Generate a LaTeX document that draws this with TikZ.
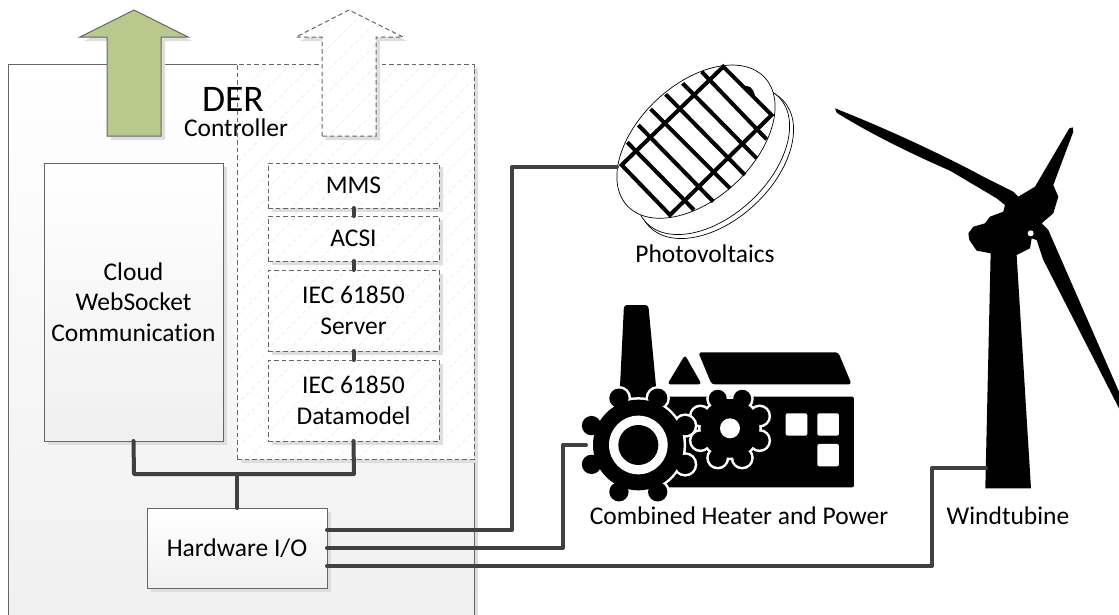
\documentclass[tikz,border=0pt]{standalone}
\usepackage{fontspec}
\setmainfont{Carlito}[Ligatures=NoCommon]
\usetikzlibrary{positioning,shadows}
\definecolor{greenarrow}{HTML}{B9C88C}

\begin{document}
\begin{tikzpicture}[x=1pt,y=-1pt,
  lbl/.style={font=\fontsize{25.5}{30.5}\selectfont, align=center},
  shade/.style={drop shadow={shadow xshift=4pt, shadow yshift=-4pt, fill=black!13, opacity=1}},
  hatched/.style={path picture={
    \foreach \hx in {-1500,-1478,...,700} \draw[black!7, line width=0.7pt] (\hx,600) -- ++(1200,-1200);}},
  solidbox/.style={draw=black!60, line width=1pt, shade, top color=white, bottom color=black!6,
                   minimum width=#1, outer sep=0pt, inner sep=0pt},
  dashbox/.style={draw=black!60, line width=1pt, dash pattern=on 4.5pt off 3pt, shade, fill=white, hatched,
                  minimum width=171pt, outer sep=0pt, inner sep=0pt},
  wire/.style={draw=black!75, line width=4pt, line cap=round, line join=round},
  halo/.style={draw=white, line width=5pt, fill=white}]
  \useasboundingbox (0,0) rectangle (1119,614);

  % controller housing
  \node[solidbox=466pt, minimum height=560pt, anchor=north west] (der) at (8,64) {};
  \node[dashbox, minimum width=237pt, minimum height=395pt, anchor=north west] (srv) at (237,64) {};

  % arrows out of the housing
  \draw[draw=black!60, line width=1pt, fill=greenarrow, shade]
    (107,136) -- (107,37) -- (80,37) -- (134,10) -- (188,37) -- (161,37) -- (161,136) -- cycle;
  \draw[draw=black!60, line width=1pt, dash pattern=on 4.5pt off 3pt, fill=white, shade, hatched]
    (322,136) -- (322,37) -- (296,37) -- (349,10) -- (403,37) -- (376,37) -- (376,136) -- cycle;

  \node[lbl, font=\fontsize{37.5}{37.5}\selectfont, inner sep=0pt] (dertxt) at (233,99) {DER};
  \node[lbl, inner sep=0pt] (ctrltxt) at (236,128) {Controller};

  % boxes
  \node[solidbox=179pt, minimum height=278pt, anchor=north west, lbl] (cloud) at (44,163) {Cloud\\WebSocket\\Communication};
  \node[dashbox, minimum height=45pt, anchor=north west, lbl] (mms) at (268,163) {MMS};
  \node[dashbox, minimum height=45pt, below=8pt of mms, lbl] (acsi) {ACSI};
  \node[dashbox, minimum height=81pt, below=9pt of acsi, lbl] (server) {IEC 61850\\Server};
  \node[dashbox, minimum height=81pt, below=9pt of server, lbl] (model) {IEC 61850\\Datamodel};
  \node[solidbox=180pt, minimum height=80pt, anchor=north west, lbl] (hwio) at (147,508) {Hardware I/O};

  % photovoltaics
  \begin{scope}[shift={(500,50)},x=0.3333pt,y=-0.3333pt]
    \filldraw[fill=white, draw=black, line width=0.7pt, rotate around={43:(648,340)}] (648,340) ellipse (276 and 170);
    \filldraw[fill=white, draw=black, line width=0.7pt, rotate around={43:(638,330)}] (638,330) ellipse (274 and 168);
    \filldraw[fill=white, draw=black, line width=0.7pt, rotate around={43:(588,275)}] (588,275) ellipse (282 and 172);
    \draw[black, line width=4pt, line join=miter] (670,50) -- (815,195) -- (510,495) -- (365,345) -- cycle;
    \foreach \ax/\ay/\bx/\by in {605/65/800/268, 548/100/770/325, 497/133/735/375, 452/177/690/415, 415/225/640/455, 382/277/582/480}
      \draw[black, line width=4pt] (\ax,\ay) -- (\bx,\by);
    \fill[black] (728,112) .. controls (745,100) and (760,115) .. (765,135) -- cycle;
  \end{scope}
  \coordinate (pv) at (617,167);
  \node[lbl] (pvtxt) at (705,254) {Photovoltaics};

  % heat and power plant
  \begin{scope}[shift={(550,290)},x=0.3333pt,y=-0.3333pt]
    \fill[black, rounded corners=3pt] (222,45) -- (295,45) -- (322,330) -- (208,330) -- cycle;
    \fill[black, rounded corners=3pt] (405,195) -- (455,283) -- (352,283) -- cycle;
    \fill[black, rounded corners=3pt] (445,187) -- (865,187) -- (905,283) -- (485,283) -- cycle;
    \fill[black, rounded corners=2pt] (300,320) -- (912,320) -- (912,592) -- (300,592) -- cycle;
    \foreach \wx/\wy in {707/370, 802/370, 802/462}
      \fill[white, rounded corners=2pt] (\wx,\wy) rectangle ++(65,67);
    % small gear
    \foreach \ang in {22.5,67.5,...,360} \filldraw[halo] (540,415) ++(\ang:96) circle (27);
    \filldraw[halo] (540,415) circle (88);
    \foreach \ang in {22.5,67.5,...,360} \fill[black] (540,415) ++(\ang:96) circle (27);
    \fill[black] (540,415) circle (88);
    \fill[white] (540,415) circle (30);
    % big gear
    \foreach \ang in {22.5,67.5,...,360} \filldraw[halo] (265,465) ++(\ang:152) circle (29);
    \filldraw[halo] (265,465) circle (136);
    \foreach \ang in {22.5,67.5,...,360} \fill[black] (265,465) ++(\ang:152) circle (29);
    \fill[black] (265,465) circle (136);
    \fill[white] (265,465) circle (88);
    \fill[black] (265,465) circle (60);
  \end{scope}
  \coordinate (chp) at (586,445);
  \node[lbl] (chptxt) at (739,516) {Combined Heater and Power};

  % wind turbine
  \begin{scope}[shift={(800,90)},x=0.3333pt,y=-0.3333pt]
    \fill[black, line join=round] (105,55) .. controls (250,112) and (420,190) .. (550,260) -- (640,305) -- (655,320)
      -- (705,290) -- (808,115) -- (818,112) -- (820,125) -- (760,285) -- (775,320) -- (760,370) -- (725,400)
      -- (745,420) -- (957,905) -- (957,955) -- (730,510) -- (710,450) -- (695,445) -- (690,475) -- (650,495)
      -- (693,1195) -- (556,1195) -- (572,490) -- (530,482) -- (508,450) -- (505,430) -- (520,410) -- (555,400)
      -- (570,380) -- (610,365) -- (615,345) -- (590,325) -- (450,242) .. controls (330,190) and (200,125) .. (110,68) -- cycle;
    \fill[white] (692,430) circle (9);
  \end{scope}
  \coordinate (wind) at (986,468);
  \node[lbl] (windtxt) at (1008,516) {Windtubine};

  % connections
  \path[wire] (cloud.south) -- (134,474) -- (354,474) -- (model.south);
  \path[wire] (237,474) -- (hwio.north);
  \path[wire] ([yshift=18pt]hwio.east) -- (512,530) -- (512,167) -- (pv);
  \path[wire] (hwio.east) -- (563,548) -- (563,445) -- (chp);
  \path[wire] ([yshift=-18pt]hwio.east) -- (932,566) -- (932,468) -- (wind);
  \path[wire] (mms) -- (acsi);
  \path[wire] (acsi) -- (server);
  \path[wire] (server) -- (model);
\end{tikzpicture}
\end{document}
